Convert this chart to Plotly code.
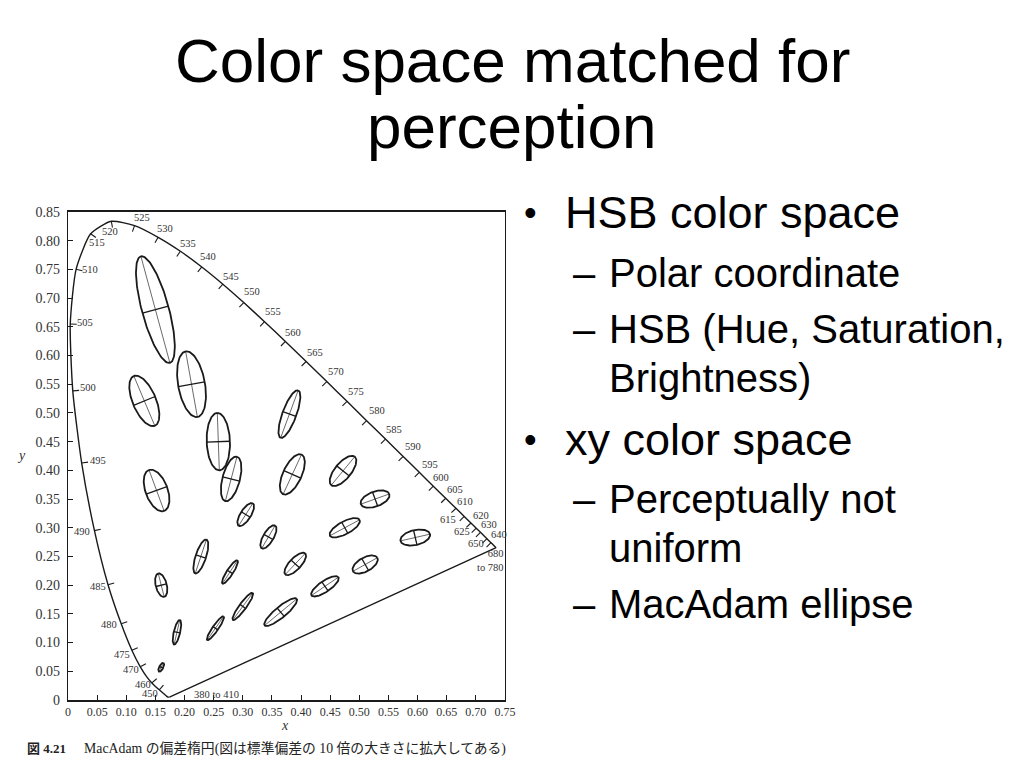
import numpy as np
import plotly.graph_objects as go

# ---------------- data ----------------
# CIE 1931 spectral locus (chromaticity x, y) by wavelength (nm)
locus_nm = [380, 420, 430, 440, 450, 455, 460, 465, 470, 475, 480, 485, 490, 495, 500,
            505, 510, 515, 520, 525, 530, 535, 540, 545, 550, 555, 560, 565, 570, 575,
            580, 585, 590, 595, 600, 605, 610, 615, 620, 625, 630, 640, 650, 660, 680, 700]
locus_x = [0.1741, 0.1714, 0.1689, 0.1644, 0.1566, 0.1510, 0.1440, 0.1355, 0.1241, 0.1096,
           0.0913, 0.0687, 0.0454, 0.0235, 0.0082, 0.0039, 0.0139, 0.0389, 0.0743, 0.1142,
           0.1547, 0.1929, 0.2296, 0.2658, 0.3016, 0.3373, 0.3731, 0.4087, 0.4441, 0.4788,
           0.5125, 0.5448, 0.5752, 0.6029, 0.6270, 0.6482, 0.6658, 0.6801, 0.6915, 0.7006,
           0.7079, 0.7190, 0.7260, 0.7300, 0.7334, 0.7347]
locus_y = [0.0050, 0.0051, 0.0069, 0.0109, 0.0177, 0.0227, 0.0297, 0.0399, 0.0578, 0.0868,
           0.1327, 0.2007, 0.2950, 0.4127, 0.5384, 0.6548, 0.7502, 0.8120, 0.8338, 0.8262,
           0.8059, 0.7816, 0.7543, 0.7243, 0.6923, 0.6589, 0.6245, 0.5896, 0.5547, 0.5202,
           0.4866, 0.4544, 0.4242, 0.3965, 0.3725, 0.3514, 0.3340, 0.3197, 0.3083, 0.2993,
           0.2920, 0.2809, 0.2740, 0.2700, 0.2666, 0.2653]

# wavelengths that carry a tick mark and a label
label_nm = [450, 460, 470, 475, 480, 485, 490, 495, 500, 505, 510, 515, 520, 525, 530,
            535, 540, 545, 550, 555, 560, 565, 570, 575, 580, 585, 590, 595, 600, 605,
            610, 615, 620, 625, 630, 640, 650]
# label offsets in screen pixels (dx right, dy up) - text placement only
label_dx = [-9, -9, -9, -10, -12, -10, -12, 16, 15, 15, 14, 6, -1, 7, 7,
            8, 6, 8, 8, 8, 8, 9, 9, 9, 10, 9, 10, 11, 8, 9,
            9, -16, 10, -14, 9, 12, -15]
label_dy = [-4, -2, -3, -4, -1, -2, -1, 3, 3, 2, 0, -9, -10, 8, 9,
            8, 10, 8, 11, 10, 9, 9, 10, 10, 10, 10, 10, 8, 9, 9,
            7, -3, 8, -3, 8, 4, -1]

# MacAdam (1942) ellipses: centre (x, y), semi-axes a, b (x10^-3), angle (deg)
ell_x = [0.160, 0.187, 0.253, 0.150, 0.131, 0.212, 0.258, 0.152, 0.280, 0.380, 0.160, 0.228, 0.305,
         0.385, 0.472, 0.527, 0.475, 0.510, 0.596, 0.344, 0.390, 0.441, 0.278, 0.300, 0.365]
ell_y = [0.057, 0.118, 0.125, 0.680, 0.521, 0.550, 0.450, 0.365, 0.385, 0.498, 0.200, 0.250, 0.323,
         0.393, 0.399, 0.350, 0.300, 0.236, 0.283, 0.284, 0.237, 0.198, 0.223, 0.163, 0.153]
ell_a = [0.85, 2.2, 2.5, 9.6, 4.7, 5.8, 5.0, 3.8, 4.0, 4.4, 2.1, 3.1, 2.3,
         3.8, 3.2, 2.6, 2.9, 2.4, 2.6, 2.3, 2.5, 2.8, 2.4, 2.9, 3.6]
ell_b = [0.35, 0.55, 0.50, 2.3, 2.0, 2.3, 2.0, 1.9, 1.5, 1.2, 0.95, 0.9, 0.9,
         1.6, 1.4, 1.3, 1.1, 1.2, 1.3, 0.9, 1.0, 0.95, 0.55, 0.6, 0.95]
ell_theta = [62.5, 77, 55.5, 105, 112.5, 100, 92, 110, 75.5, 70, 104, 72, 58,
             65.5, 51, 20, 28.5, 29.5, 13, 60, 47, 34.5, 57.5, 54, 40]
magnify = 10  # ellipses drawn 10x the standard deviation

x_ticks = [0, 0.05, 0.10, 0.15, 0.20, 0.25, 0.30, 0.35, 0.40, 0.45, 0.50, 0.55, 0.60, 0.65, 0.70, 0.75]
x_ticktext = ["0", "0.05", "0.10", "0.15", "0.20", "0.25", "0.30", "0.35", "0.40", "0.45",
              "0.50", "0.55", "0.60", "0.65", "0.70", "0.75"]
y_ticks = [0, 0.05, 0.10, 0.15, 0.20, 0.25, 0.30, 0.35, 0.40, 0.45, 0.50, 0.55, 0.60, 0.65, 0.70, 0.75, 0.80, 0.85]
y_ticktext = ["0", "0.05", "0.10", "0.15", "0.20", "0.25", "0.30", "0.35", "0.40", "0.45",
              "0.50", "0.55", "0.60", "0.65", "0.70", "0.75", "0.80", "0.85"]

title_lines = ["Color space matched for", "perception"]
bullets = [
    ("•", "HSB color space", 1),
    ("–", "Polar coordinate", 2),
    ("–", "HSB (Hue, Saturation,", 2),
    ("", "Brightness)", 2),
    ("•", "xy color space", 1),
    ("–", "Perceptually not", 2),
    ("", "uniform", 2),
    ("–", "MacAdam ellipse", 2),
]
caption_fig = "図 4.21"
caption_text = "MacAdam の偏差楕円(図は標準偏差の 10 倍の大きさに拡大してある)"

# ---------------- layout geometry ----------------
OFF = 8                      # page body margin of the html page
W, H = 1024 - OFF, 768 - OFF
L, T = 68 - OFF, 212 - OFF   # plot area top-left in figure pixels
PW, PH = 437, 488
R, B = W - L - PW, H - T - PH


def px(xp, yp):
    """screen pixel (window) -> paper coordinates"""
    return (xp - OFF - L) / PW, (H - B - (yp - OFF)) / PH


INK = "#1a1a1a"
SERIF = "Liberation Serif, DejaVu Serif, serif"
SANS = "Liberation Sans, Arial, sans-serif"

fig = go.Figure()

# spectral locus
fig.add_trace(go.Scatter(x=locus_x, y=locus_y, mode="lines",
                         line=dict(color=INK, width=1.4, shape="spline", smoothing=0.6),
                         hoverinfo="skip", showlegend=False))
# purple line
fig.add_trace(go.Scatter(x=[locus_x[0], locus_x[-1]], y=[locus_y[0], locus_y[-1]], mode="lines",
                         line=dict(color=INK, width=1.4), hoverinfo="skip", showlegend=False))

# tick marks on the locus (pointing inward)
tx, ty = [], []
lx_arr = np.array(locus_x)
ly_arr = np.array(locus_y)
for nm in label_nm:
    i = locus_nm.index(nm)
    dx = lx_arr[min(i + 1, len(lx_arr) - 1)] - lx_arr[max(i - 1, 0)]
    dy = ly_arr[min(i + 1, len(ly_arr) - 1)] - ly_arr[max(i - 1, 0)]
    n = np.hypot(dx, dy)
    nx, ny = dy / n, -dx / n
    tl = 0.011
    tx += [lx_arr[i], lx_arr[i] + nx * tl, None]
    ty += [ly_arr[i], ly_arr[i] + ny * tl, None]
fig.add_trace(go.Scatter(x=tx, y=ty, mode="lines", line=dict(color=INK, width=1.1),
                         hoverinfo="skip", showlegend=False))

# ellipses
ox, oy, mx, my, nx_, ny_ = [], [], [], [], [], []
t = np.linspace(0, 2 * np.pi, 121)
for cx, cy, a, b, th in zip(ell_x, ell_y, ell_a, ell_b, ell_theta):
    A = a * 1e-3 * magnify
    Bb = b * 1e-3 * magnify
    r = np.deg2rad(th)
    c, s = np.cos(r), np.sin(r)
    ex = cx + A * np.cos(t) * c - Bb * np.sin(t) * s
    ey = cy + A * np.cos(t) * s + Bb * np.sin(t) * c
    ox += list(ex) + [None]
    oy += list(ey) + [None]
    mx += [cx - A * c, cx + A * c, None]
    my += [cy - A * s, cy + A * s, None]
    nx_ += [cx + Bb * s, cx - Bb * s, None]
    ny_ += [cy - Bb * c, cy + Bb * c, None]
fig.add_trace(go.Scatter(x=mx, y=my, mode="lines", line=dict(color="#444", width=0.8),
                         hoverinfo="skip", showlegend=False))
fig.add_trace(go.Scatter(x=nx_, y=ny_, mode="lines", line=dict(color=INK, width=1.3),
                         hoverinfo="skip", showlegend=False))
fig.add_trace(go.Scatter(x=ox, y=oy, mode="lines", line=dict(color=INK, width=1.8),
                         hoverinfo="skip", showlegend=False))

annotations = []
# wavelength labels
for nm, dx, dy in zip(label_nm, label_dx, label_dy):
    i = locus_nm.index(nm)
    annotations.append(dict(x=locus_x[i], y=locus_y[i], xref="x", yref="y", text=str(nm),
                            showarrow=False, xshift=dx, yshift=dy,
                            font=dict(family=SERIF, size=10.5, color="#333")))
annotations.append(dict(x=locus_x[-2], y=locus_y[-2], xref="x", yref="y", text="680<br>to 780",
                        showarrow=False, xshift=-5, yshift=-14, align="right",
                        font=dict(family=SERIF, size=10.5, color="#333")))
annotations.append(dict(x=locus_x[0], y=locus_y[0], xref="x", yref="y", text="380 to 410",
                        showarrow=False, xshift=47, yshift=3,
                        font=dict(family=SERIF, size=10.5, color="#333")))

# axis titles
xx, yy = px(285, 735)
annotations.append(dict(x=xx, y=yy, xref="paper", yref="paper", text="<i>x</i>", showarrow=False,
                        font=dict(family=SERIF, size=14, color="#333")))
xx, yy = px(15, 455)
annotations.append(dict(x=xx, y=yy, xref="paper", yref="paper", text="<i>y</i>", showarrow=False,
                        font=dict(family=SERIF, size=14, color="#333")))

# caption
xx, yy = px(25, 748)
annotations.append(dict(x=xx, y=yy, xref="paper", yref="paper", text="<b>" + caption_fig + "</b>",
                        showarrow=False, xanchor="left", yanchor="middle",
                        font=dict(family=SERIF + ", Noto Sans CJK JP", size=13, color="#222")))
xx, yy = px(82, 748)
annotations.append(dict(x=xx, y=yy, xref="paper", yref="paper", text=caption_text,
                        showarrow=False, xanchor="left", yanchor="middle",
                        font=dict(family=SERIF + ", Noto Sans CJK JP", size=13.8, color="#222")))

# title
for line, cy in zip(title_lines, [60, 127]):
    xx, yy = px(512, cy)
    annotations.append(dict(x=xx, y=yy, xref="paper", yref="paper", text=line, showarrow=False,
                            xanchor="center", yanchor="middle",
                            font=dict(family=SANS, size=62, color="#000")))

# bullets
centers = [212, 273, 329, 378, 439, 499, 548, 604]
for (mark, txt, lvl), cy in zip(bullets, centers):
    size = 45 if lvl == 1 else 40
    text_x = 563 if lvl == 1 else 607
    mark_x = 530 if lvl == 1 else 584
    if mark:
        xx, yy = px(mark_x, cy)
        annotations.append(dict(x=xx, y=yy, xref="paper", yref="paper", text=mark, showarrow=False,
                                xanchor="center", yanchor="middle",
                                font=dict(family=SANS, size=size if lvl == 2 else 36, color="#000")))
    xx, yy = px(text_x, cy)
    annotations.append(dict(x=xx, y=yy, xref="paper", yref="paper", text=txt, showarrow=False,
                            xanchor="left", yanchor="middle",
                            font=dict(family=SANS, size=size, color="#000")))

fig.update_layout(
    width=W, height=H, autosize=False,
    margin=dict(l=L, r=R, t=T, b=B, pad=0),
    paper_bgcolor="white", plot_bgcolor="white",
    showlegend=False,
    annotations=annotations,
    xaxis=dict(range=[0, 0.75], tickvals=x_ticks, ticktext=x_ticktext, ticks="inside", ticklen=5,
               tickcolor=INK, showline=True, linecolor=INK, linewidth=1.6, mirror=True,
               showgrid=False, zeroline=False, fixedrange=True,
               tickfont=dict(family=SERIF, size=12, color="#333")),
    yaxis=dict(range=[0, 0.85], tickvals=y_ticks, ticktext=y_ticktext, ticks="inside", ticklen=5,
               tickcolor=INK, showline=True, linecolor=INK, linewidth=1.4, mirror=True,
               showgrid=False, zeroline=False, fixedrange=True, ticklabelstandoff=4,
               tickfont=dict(family=SERIF, size=14, color="#333")),
)

fig.write_html("out.html")
